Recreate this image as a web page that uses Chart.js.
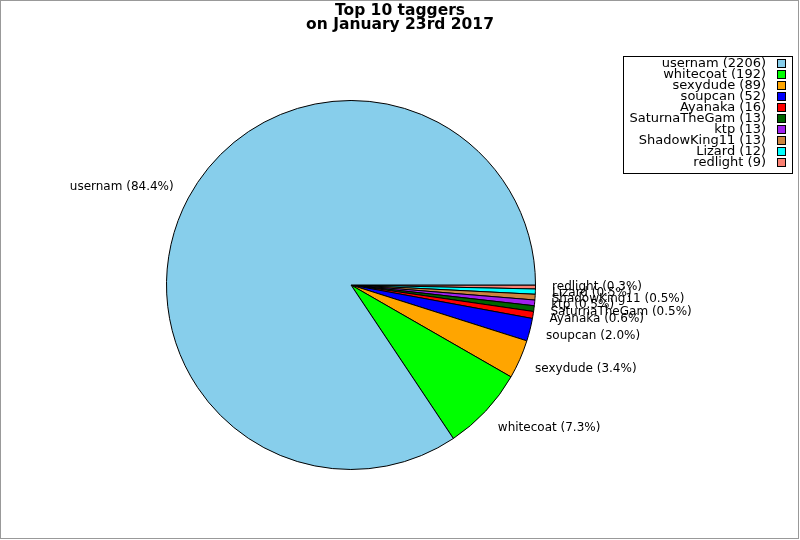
<!DOCTYPE html>
<html>
<head>
<meta charset="utf-8">
<script src="https://cdn.jsdelivr.net/npm/chart.js@4.4.1/dist/chart.umd.min.js"></script>
<style>
  html, body { margin: 0; padding: 0; background: #fff; }
  #wrap { position: relative; width: 800px; height: 540px; }
  canvas { display: block; }
</style>
</head>
<body>
<div id="wrap"><canvas id="c" width="800" height="540"></canvas></div>
<script>
const names = ["usernam", "whitecoat", "sexydude", "soupcan", "Ayanaka", "SaturnaTheGam", "ktp", "ShadowKing11", "Lizard", "redlight"];
const counts = [2206, 192, 89, 52, 16, 13, 13, 13, 12, 9];
const colors = ["#87ceeb", "#00ff00", "#ffa500", "#0000ff", "#ff0000", "#006400", "#a020f0", "#cd853f", "#00ffff", "#fa8072"];
const titleLines = ["Top 10 taggers", "on January 23rd 2017"];

const total = counts.reduce((a, b) => a + b, 0);
// Reference draws counter-clockwise from 3 o'clock; Chart.js draws clockwise,
// so feed the slices in reverse order starting at 3 o'clock.
const rNames = names.slice().reverse();
const rCounts = counts.slice().reverse();
const rColors = colors.slice().reverse();

const FONT = '"DejaVu Sans", sans-serif';

const decor = {
  id: 'decor',
  afterDatasetsDraw(chart) {
    const ctx = chart.ctx;
    const meta = chart.getDatasetMeta(0);
    ctx.save();
    // slice labels
    ctx.font = '12px ' + FONT;
    ctx.fillStyle = '#000';
    ctx.textBaseline = 'middle';
    meta.data.forEach((arc, i) => {
      const p = arc.getProps(['x', 'y', 'startAngle', 'endAngle', 'outerRadius'], true);
      const mid = (p.startAngle + p.endAngle) / 2;
      const x = p.x + Math.cos(mid) * p.outerRadius * 1.09;
      const y = p.y + Math.sin(mid) * p.outerRadius * 1.13;
      ctx.textAlign = Math.cos(mid) >= 0 ? 'left' : 'right';
      const v = chart.data.datasets[0].data[i];
      ctx.fillText(chart.data.labels[i] + ' (' + (v / total * 100).toFixed(1) + '%)', x, y);
    });
    // title
    ctx.font = 'bold 15.5px ' + FONT;
    ctx.textAlign = 'center';
    ctx.fillText(titleLines[0], 400, 11);
    ctx.fillText(titleLines[1], 400, 25);
    // legend
    ctx.strokeStyle = '#000';
    ctx.lineWidth = 1;
    ctx.strokeRect(623.5, 56.5, 169, 117);
    ctx.font = '13px ' + FONT;
    ctx.textAlign = 'right';
    names.forEach((n, i) => {
      const y = 63.3 + i * 11;
      ctx.fillStyle = '#000';
      ctx.fillText(n + ' (' + counts[i] + ')', 766, y + 0.5);
      const sy = Math.round(y - 4) + 0.5;
      ctx.fillStyle = colors[i];
      ctx.fillRect(777.5, sy, 8, 8);
      ctx.strokeRect(777.5, sy, 8, 8);
    });
    // frame
    ctx.strokeStyle = '#999';
    ctx.strokeRect(0.5, 0.5, 798, 538);
    ctx.restore();
  }
};

new Chart(document.getElementById('c'), {
  type: 'pie',
  data: {
    labels: rNames,
    datasets: [{
      data: rCounts,
      backgroundColor: rColors,
      borderColor: '#000',
      borderWidth: 1,
      borderJoinStyle: 'miter'
    }]
  },
  options: {
    responsive: false,
    animation: false,
    rotation: 90,
    layout: { padding: { left: 166, right: 264, top: 100, bottom: 70 } },
    plugins: {
      legend: { display: false },
      title: { display: false },
      tooltip: { enabled: false }
    }
  },
  plugins: [decor]
});
</script>
</body>
</html>
